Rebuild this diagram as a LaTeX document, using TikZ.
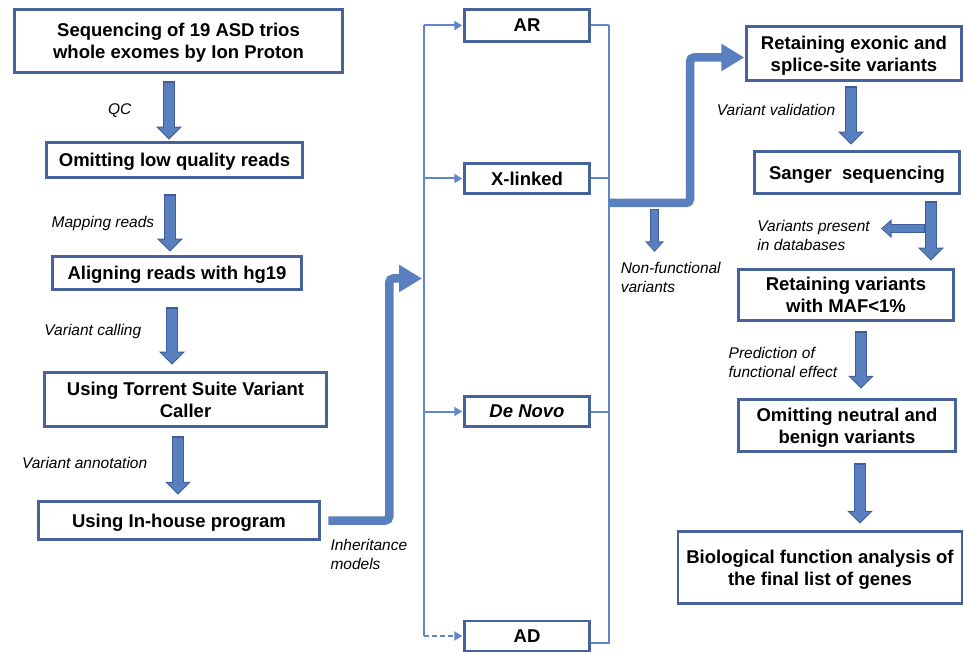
\documentclass[tikz,border=0pt]{standalone}
\usepackage{fontspec}
\setmainfont{Liberation Sans}
\usetikzlibrary{arrows.meta,positioning}

\definecolor{boxedge}{HTML}{46639C}
\definecolor{arrowfill}{HTML}{5A7FBE}
\definecolor{arrowedge}{HTML}{3E5E99}
\definecolor{linkblue}{HTML}{5F86C9}

\tikzset{
  box/.style={draw=boxedge, line width=2.5pt, fill=white, align=center, inner sep=0pt,
    text depth=0pt, font=\bfseries\fontsize{18.5}{22}\selectfont},
  lbl/.style={font=\itshape\fontsize{15.5}{19}\selectfont, align=left, inner sep=0pt},
  blockarr/.style={draw=arrowfill, line width=9.5pt, shorten <=1.5pt, shorten >=1.5pt,
    -{Triangle[width=20pt,length=10.5pt]},
    preaction={draw=arrowedge, line width=12.5pt, shorten <=0pt, shorten >=0pt,
      -{Triangle[width=25pt,length=13pt]}}},
  smallarr/.style={draw=arrowfill, line width=6.5pt, shorten <=1.2pt, shorten >=1.2pt,
    -{Triangle[width=14pt,length=8.5pt]},
    preaction={draw=arrowedge, line width=9pt, shorten <=0pt, shorten >=0pt,
      -{Triangle[width=18pt,length=10.5pt]}}},
  thickconn/.style={draw=arrowfill, line width=8.5pt, rounded corners=4pt,
    -{Triangle[width=26pt,length=23pt]}},
  thinconn/.style={draw=linkblue, line width=2pt},
  tip/.style={-{Triangle[width=9pt,length=8pt]}, shorten >=1pt}
}

\begin{document}
\begin{tikzpicture}[x=1pt, y=-1pt]
    \useasboundingbox (0,0) rectangle (964,652);

    \node[box, minimum width=328pt, minimum height=63pt] (seq) at (178.5,41) {Sequencing of 19 ASD trios\\whole exomes by Ion Proton};
    \node[box, minimum width=256pt, minimum height=35pt] (omit) at (174.5,160) {Omitting low quality reads};
    \node[box, minimum width=249pt, minimum height=33pt] (align) at (177,273) {Aligning reads with hg19};
    \node[box, minimum width=282pt, minimum height=54pt] (torrent) at (185.5,399.5) {Using Torrent Suite Variant\\Caller};
    \node[box, minimum width=281pt, minimum height=38pt] (inhouse) at (179,520.5) {Using In-house program};

    \node[box, minimum width=125pt, minimum height=32pt] (ar) at (527,25.5) {AR};
    \node[box, minimum width=125pt, minimum height=30pt] (xl) at (527,178.5) {X-linked};
    \node[box, minimum width=125pt, minimum height=30pt] (dn) at (527,411.5) {\itshape De Novo};
    \node[box, minimum width=125pt, minimum height=30pt] (ad) at (527,636) {AD};

    \node[box, minimum width=215pt, minimum height=54pt] (exon) at (854,53.5) {Retaining exonic and\\splice-site variants};
    \node[box, minimum width=205pt, minimum height=42pt] (sanger) at (857,172.5) {Sanger\ \ sequencing};
    \node[box, minimum width=215pt, minimum height=51pt] (maf) at (846,295) {Retaining variants\\with MAF<1\%};
    \node[box, minimum width=217pt, minimum height=52pt] (neutral) at (847,425.5) {Omitting neutral and\\benign variants};
    \node[box, minimum width=284pt, minimum height=72pt] (bio) at (820,567.5) {Biological function analysis of\\the final list of genes};

    \draw[blockarr] ([xshift=-9.5pt,yshift=-7.5pt]seq.south) --node[lbl,left=33pt](qc){QC}([xshift=-5.5pt,yshift=1.5pt]omit.north);
    \draw[blockarr] ([xshift=-4.5pt,yshift=-15.5pt]omit.south) --node[lbl,left=11pt](mapr){Mapping reads}([xshift=-7pt,yshift=3.5pt]align.north);
    \draw[blockarr] ([xshift=-5pt,yshift=-16.5pt]align.south) --node[lbl,left=26pt,pos=0.43](vcall){Variant calling}([xshift=-13.5pt,yshift=6.5pt]torrent.north);
    \draw[blockarr] ([xshift=-7.5pt,yshift=-8.5pt]torrent.south) --node[lbl,left=26pt,pos=0.45](vann){Variant annotation}([xshift=-1pt,yshift=5.5pt]inhouse.north);

    \draw[blockarr] ([xshift=-3pt,yshift=-4.5pt]exon.south) --node[lbl,left=11pt,pos=0.4](vval){Variant validation}([xshift=-6pt,yshift=5.5pt]sanger.north);
    \draw[blockarr] ([xshift=74pt,yshift=-6.5pt]sanger.south) --coordinate[pos=0.46](dbfork)([xshift=85pt,yshift=7.5pt]maf.north);
    \draw[blockarr] ([xshift=15pt,yshift=-9.5pt]maf.south) --node[lbl,left=19pt,pos=0.55](pred){Prediction of\\functional effect}([xshift=14pt,yshift=9.5pt]neutral.north);
    \draw[blockarr] ([xshift=13pt,yshift=-10.5pt]neutral.south) --([xshift=40pt,yshift=6.5pt]bio.north);

    \draw[smallarr] ([xshift=-6pt]dbfork) -- ++(-44,0) node[lbl,left=8pt,yshift=-7pt](dbl){Variants present\\in databases};

    \coordinate (spl) at (424,0);
    \coordinate (spr) at (608.5,0);
    \coordinate (inh) at (422,278.5);
    \coordinate (mrg) at (608.5,203);

    \draw[thinconn] (ar.west -| spl) -- (ad.west -| spl);
    \foreach \n in {ar,xl,dn} \draw[thinconn,tip] (\n.west -| spl) -- (\n.west);
    \draw[thinconn,tip,dash pattern=on 5pt off 3pt] (ad.west -| spl) -- (ad.west);

    \foreach \n in {ar,xl,dn} \draw[thinconn] (\n.east) -- (\n.east -| spr);
    \draw[thinconn] ([yshift=-7pt]ad.east) -- ([yshift=-7pt]ad.east -| spr) -- (ar.east -| spr);

    \draw[thickconn] ([xshift=7.5pt]inhouse.east) node[lbl,anchor=north west,xshift=-2pt,yshift=-15pt](inhl){Inheritance\\models} -- ++(61,0) |- (inh);
    \draw[thickconn] (mrg) -- ++(81.5,0) |- ([xshift=-1pt,yshift=-4pt]exon.west);

    \draw[smallarr] ([xshift=46pt,yshift=-6pt]mrg) -- ++(0,43) node[lbl,anchor=north west,xshift=-37pt,yshift=-7pt](nfv){Non-functional\\variants};

\end{tikzpicture}
\end{document}
